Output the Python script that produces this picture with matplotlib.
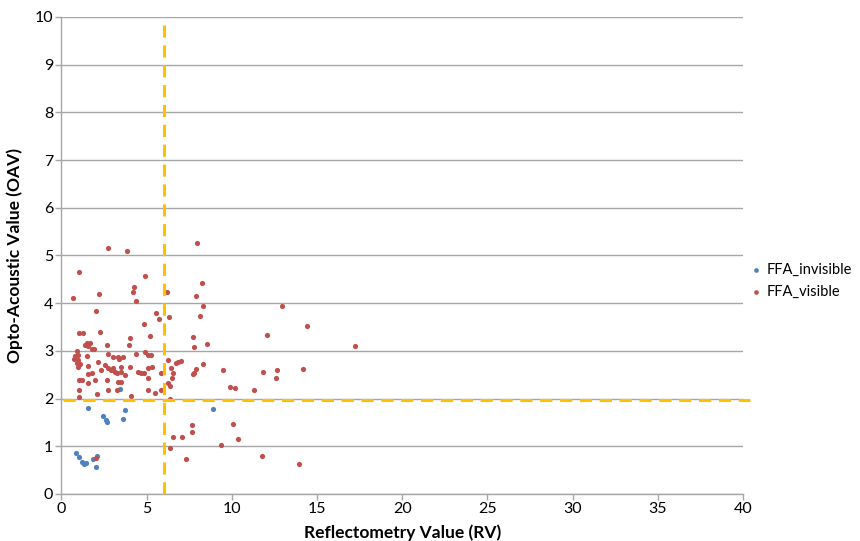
import matplotlib
matplotlib.use("Agg")
import matplotlib.pyplot as plt

plt.rcParams['font.family'] = ['Lato', 'DejaVu Sans']

# FFA_invisible (blue)
inv_x = [1.57, 2.43, 2.63, 2.65, 3.63, 3.73, 3.43, 0.87, 1.05, 1.22, 1.30, 1.42,
         1.85, 2.10, 2.01, 8.91]
inv_y = [1.81, 1.64, 1.55, 1.51, 1.58, 1.76, 2.21, 0.85, 0.77, 0.67, 0.63, 0.64,
         0.73, 0.80, 0.56, 1.78]

# FFA_visible (red)
vis_x = [2.75, 3.83, 1.03, 4.90, 4.25, 4.22, 0.69, 2.18, 4.37, 6.21, 2.01, 5.56,
         5.74, 6.29, 4.86, 1.05, 1.26, 2.26, 1.48, 1.57, 1.38, 1.67, 1.92, 1.77,
         2.65, 0.89, 0.79, 0.99, 0.75, 1.48, 0.99, 0.89, 1.09, 0.95, 1.57, 2.12,
         2.75, 3.04, 3.33, 2.55, 2.75, 2.90, 2.32, 3.04, 3.14, 3.24, 1.77, 1.54,
         1.97, 1.03, 1.22, 1.54, 2.69, 3.33, 1.03, 2.07, 2.71, 3.24, 1.00,
         4.04, 3.94, 5.17, 4.39, 4.88, 5.07, 5.27, 3.61, 3.37, 6.25, 6.84, 6.99,
         4.00, 3.51, 5.33, 5.07, 6.44, 6.74, 3.47, 3.71, 4.49, 4.65, 4.84, 5.82,
         6.54, 3.51, 5.07, 6.50, 6.25, 5.07, 5.47, 5.86, 4.06, 6.35,
         7.70, 7.79, 8.56, 8.32, 7.89, 7.78, 7.70, 9.50, 9.89, 10.18,
         7.97, 8.26, 7.88, 8.30, 8.15, 12.94, 12.04,
         11.84, 12.66, 12.57, 11.31, 6.37, 7.64, 7.64, 10.06, 6.56, 7.09, 10.34,
         9.36, 6.37, 7.29, 11.78, 14.39, 17.22, 14.15, 13.94, 2.05]
vis_y = [5.15, 5.09, 4.66, 4.58, 4.33, 4.23, 4.10, 4.19, 4.04, 4.24, 3.84, 3.79,
         3.66, 3.70, 3.56, 3.38, 3.37, 3.40, 3.16, 3.10, 3.12, 3.17, 3.03, 3.03,
         3.12, 3.00, 2.89, 2.91, 2.84, 2.89, 2.81, 2.74, 2.73, 2.67, 2.68, 2.77,
         2.94, 2.88, 2.87, 2.70, 2.64, 2.60, 2.60, 2.64, 2.56, 2.54, 2.53, 2.51,
         2.38, 2.39, 2.38, 2.33, 2.38, 2.35, 2.18, 2.10, 2.18, 2.17, 2.03,
         3.28, 3.12, 3.31, 2.94, 2.98, 2.91, 2.91, 2.88, 2.84, 2.81, 2.77, 2.79,
         2.67, 2.67, 2.66, 2.64, 2.64, 2.74, 2.56, 2.49, 2.56, 2.54, 2.54, 2.54,
         2.53, 2.35, 2.43, 2.43, 2.32, 2.17, 2.12, 2.17, 2.05, 2.00,
         3.30, 3.09, 3.14, 2.73, 2.61, 2.54, 2.51, 2.60, 2.24, 2.23,
         5.26, 4.43, 4.16, 3.95, 3.73, 3.94, 3.33,
         2.56, 2.60, 2.43, 2.18, 2.26, 1.45, 1.31, 1.47, 1.19, 1.19, 1.15,
         1.03, 0.97, 0.73, 0.80, 3.52, 3.10, 2.61, 0.62, 0.75]

x_ticks = [0, 5, 10, 15, 20, 25, 30, 35, 40]
y_ticks = [0, 1, 2, 3, 4, 5, 6, 7, 8, 9, 10]
rv_cut = 6.0
oav_cut = 1.96

fig = plt.figure(figsize=(8.6, 5.41), dpi=100)
ax = fig.add_axes([0.0715, 0.0869, 0.7925, 0.8817])

ax.set_xlim(0, 40)
ax.set_ylim(0, 10)
ax.set_xticks(x_ticks)
ax.set_yticks(y_ticks)
ax.yaxis.grid(True, color='#A6A6A6', linewidth=1.0)
ax.set_axisbelow(True)
for s in ['top', 'right']:
    ax.spines[s].set_visible(False)
for s in ['left', 'bottom']:
    ax.spines[s].set_color('#A6A6A6')
    ax.spines[s].set_linewidth(1.0)
ax.tick_params(axis='both', colors='#A6A6A6', labelcolor='black',
               labelsize=11.5, length=4, width=1.0, direction='out', pad=2)

ax.scatter(inv_x, inv_y, s=14, color='#4F81BD', label='FFA_invisible', zorder=3,
           linewidths=0)
ax.scatter(vis_x, vis_y, s=14, color='#C0504D', label='FFA_visible', zorder=3,
           linewidths=0)

ax.axvline(rv_cut, color='#FFC000', linewidth=2.2, dashes=(4, 2.5), zorder=4,
           clip_on=False)
ax.plot([0.1, 40.4], [oav_cut, oav_cut], color='#FFC000', linewidth=2.2,
        dashes=(4, 2.5), zorder=4, clip_on=False)

ax.set_xlabel('Reflectometry Value (RV)', fontsize=12.5, fontweight='bold', labelpad=6)
ax.set_ylabel('Opto-Acoustic Value (OAV)', fontsize=12.5, fontweight='bold', labelpad=8)

leg = ax.legend(loc='center left', bbox_to_anchor=(1.011, 0.447), frameon=False,
                fontsize=10.5, handletextpad=0.3, markerscale=0.9,
                labelspacing=0.55, handlelength=0.8, borderpad=0,
                borderaxespad=0)

fig.savefig('out.png', dpi=100)
